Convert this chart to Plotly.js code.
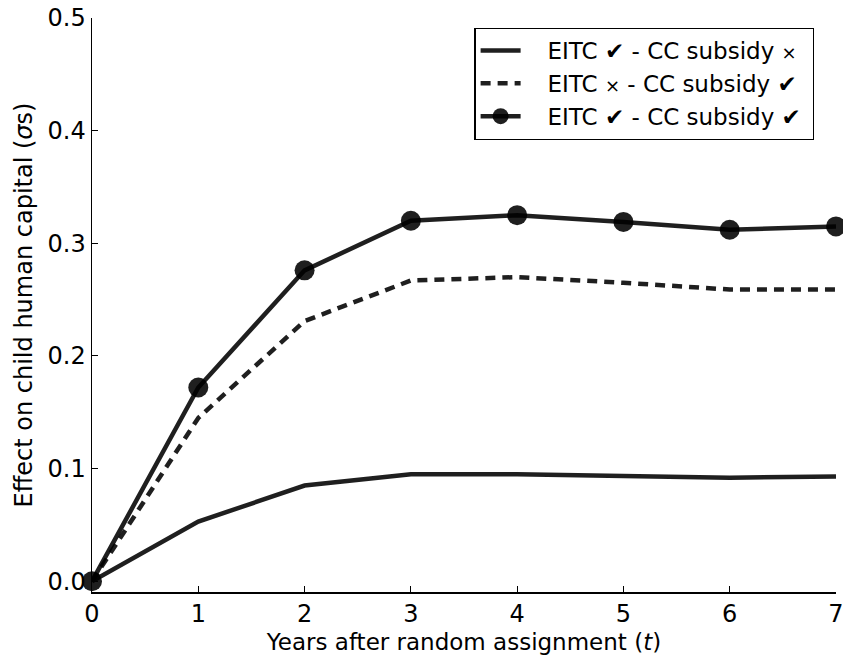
<!DOCTYPE html>
<html>
<head>
<meta charset="utf-8">
<script src="https://cdn.plot.ly/plotly-3.0.1.min.js"></script>
<style>html,body{margin:0;padding:0;background:#fff;}#chart{width:843px;height:660px;}</style>
</head>
<body>
<div id="chart"></div>
<script>
const years = [0, 1, 2, 3, 4, 5, 6, 7];
const eitcOnly = [0, 0.053, 0.085, 0.095, 0.095, 0.0935, 0.092, 0.093];
const ccOnly = [0, 0.145, 0.231, 0.267, 0.270, 0.265, 0.259, 0.259];
const both = [0, 0.172, 0.276, 0.320, 0.325, 0.319, 0.312, 0.315];
const seriesNames = [
  '\u00A0\u00A0\u00A0EITC ✔ - CC subsidy <span style="font-size:18px">×</span>\u00A0',
  '\u00A0\u00A0\u00A0EITC <span style="font-size:18px">×</span> - CC subsidy ✔\u00A0',
  '\u00A0\u00A0\u00A0EITC ✔ - CC subsidy ✔\u00A0'
];
const xTicks = [0, 1, 2, 3, 4, 5, 6, 7];
const yTicks = [0.0, 0.1, 0.2, 0.3, 0.4, 0.5];

const lineColor = 'rgba(0,0,0,0.88)';
const traces = [
  {x: years, y: eitcOnly, name: seriesNames[0], mode: 'lines', line: {color: lineColor, width: 4.5}, cliponaxis: false},
  {x: years, y: ccOnly, name: seriesNames[1], mode: 'lines', line: {color: lineColor, width: 4.5, dash: '10px,7px'}, cliponaxis: false},
  {x: years, y: both, name: seriesNames[2], mode: 'lines+markers', line: {color: lineColor, width: 4.5}, marker: {size: 20, color: lineColor}, cliponaxis: false}
];

const layout = {
  width: 843, height: 660,
  margin: {l: 92, r: 7, t: 18, b: 68},
  paper_bgcolor: '#fff', plot_bgcolor: '#fff',
  font: {family: 'DejaVu Sans', size: 22, color: '#000'},
  showlegend: true,
  legend: {
    x: 0.514, y: 0.983, xanchor: 'left', yanchor: 'top',
    bordercolor: '#000', borderwidth: 1.2, bgcolor: '#fff',
    font: {family: 'DejaVu Sans', size: 23, color: '#000'},
    itemwidth: 40, tracegroupgap: 4
  },
  xaxis: {
    range: [0, 7], tickvals: xTicks, ticktext: xTicks.map(String),
    showgrid: false, zeroline: false, showline: true, linecolor: '#000', linewidth: 1.5,
    ticks: 'inside', ticklen: 6, tickcolor: '#000', tickwidth: 1,
    tickfont: {size: 24}, ticklabeloverflow: 'allow',
    title: {text: 'Years after random assignment (<i>t</i>)\u00A0\u00A0\u00A0\u00A0\u00A0\u00A0', font: {size: 23}, standoff: 6}
  },
  yaxis: {
    range: [-0.0095, 0.5], tickvals: yTicks, ticktext: yTicks.map(v => v.toFixed(1)),
    showgrid: false, zeroline: false, showline: true, linecolor: '#000', linewidth: 1.5,
    ticks: 'inside', ticklen: 6, tickcolor: '#000', tickwidth: 1,
    tickfont: {size: 24}, ticklabeloverflow: 'allow',
    title: {text: 'Effect on child human capital (<i>σ</i>s)', font: {size: 24}, standoff: 8}
  }
};

Plotly.newPlot('chart', traces, layout, {staticPlot: true, displayModeBar: false});
</script>
</body>
</html>
